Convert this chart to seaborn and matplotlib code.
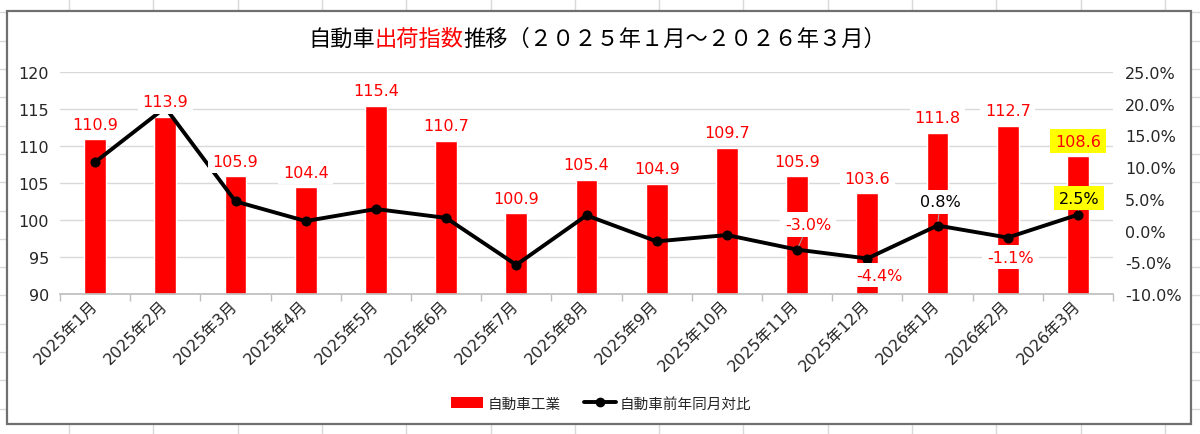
import numpy as np
import matplotlib
matplotlib.use('Agg')
import matplotlib.pyplot as plt
from matplotlib.patches import Rectangle, Patch
from matplotlib.lines import Line2D
import seaborn as sns

# chart data
months = ['2025年1月', '2025年2月', '2025年3月', '2025年4月', '2025年5月',
          '2025年6月', '2025年7月', '2025年8月', '2025年9月', '2025年10月',
          '2025年11月', '2025年12月', '2026年1月', '2026年2月', '2026年3月']
index_vals = [110.9, 113.9, 105.9, 104.4, 115.4, 110.7, 100.9, 105.4,
              104.9, 109.7, 105.9, 103.6, 111.8, 112.7, 108.6]
yoy_vals = [10.8, 19.4, 4.6, 1.5, 3.4, 2.0, -5.4, 2.4,
            -1.7, -0.7, -3.0, -4.4, 0.8, -1.1, 2.5]
bar_name = '自動車工業'
line_name = '自動車前年同月対比'
left_ticks = [90, 95, 100, 105, 110, 115, 120]
right_ticks = [-10, -5, 0, 5, 10, 15, 20, 25]

sns.set_theme(style='white')
plt.rcParams['font.family'] = ['DejaVu Sans', 'Noto Sans CJK JP']

RED = '#ff0000'
fig = plt.figure(figsize=(12, 4.35), dpi=100)

# spreadsheet cells behind the chart object
bg = fig.add_axes([0, 0, 1, 1], zorder=-10)
bg.set_xlim(0, 1200)
bg.set_ylim(435, 0)
bg.axis('off')
for x in np.arange(69, 1200, 84.3):
    bg.axvline(x, color='#d9d9d9', lw=1, zorder=1)
for y in np.arange(13.4, 435, 28.3):
    bg.axhline(y, color='#d9d9d9', lw=1, zorder=1)
bg.add_patch(Rectangle((7, 12), 1184, 413, fc='white', ec='#6f6f6f', lw=1.6, zorder=5))

ax = fig.add_axes([0.05, 0.3218, 0.8775, 0.5103])
ax.set_facecolor('none')
n = len(months)

sns.barplot(x=months, y=index_vals, color=RED, saturation=1, width=0.31,
            ax=ax, zorder=2)
ax.set_ylim(90, 120)
ax.set_yticks(left_ticks)
ax.set_xlim(-0.5, n - 0.5)
ax.grid(axis='y', color='#d9d9d9', lw=1, zorder=0)
ax.set_axisbelow(True)
for s in ['top', 'left', 'right']:
    ax.spines[s].set_visible(False)
ax.spines['bottom'].set_color('#bfbfbf')
ax.set_xticks(np.arange(-0.5, n, 1), minor=True)
ax.tick_params(axis='x', which='major', length=0, pad=6, labelsize=11.5)
ax.tick_params(axis='x', which='minor', length=5, color='#bfbfbf', bottom=True)
ax.tick_params(axis='y', length=0, pad=8, labelsize=11.5)
for lab in ax.get_xticklabels():
    lab.set_rotation(45)
    lab.set_ha('right')
    lab.set_va('center')
    lab.set_rotation_mode('anchor')
ax.set_xlabel('')
ax.set_ylabel('')

ax2 = ax.twinx()
sns.lineplot(x=np.arange(n), y=yoy_vals, ax=ax2, color='black', lw=2.8,
             marker='o', markersize=6.5, markeredgecolor='black', zorder=3)
ax2.set_ylim(-10, 25)
ax2.set_yticks(right_ticks)
ax2.set_yticklabels([f'{v:.1f}%' for v in right_ticks])
ax2.tick_params(axis='y', length=0, pad=8.5, labelsize=11.5)
for s in ax2.spines.values():
    s.set_visible(False)
ax2.set_xlim(-0.5, n - 0.5)
ax2.set_xlabel('')
ax2.set_ylabel('')

# bar value labels (drawn on the top axes so they cover the line)
for i, v in enumerate(index_vals):
    fc = '#ffff00' if i == n - 1 else 'white'
    ax2.annotate(f'{v:.1f}', xy=(i, v), xycoords=ax.transData,
                 xytext=(0, 11), textcoords='offset points',
                 ha='center', va='center', color=RED, fontsize=11.5,
                 bbox=dict(boxstyle='square,pad=0.3', fc=fc, ec='none'),
                 zorder=6)

# year-on-year labels for the latest months
pct_offsets = {10: (8, 18), 11: (9, -12), 12: (2, 17), 13: (2, -14), 14: (1, 12)}
for i, (dx, dy) in pct_offsets.items():
    v = yoy_vals[i]
    col = RED if v < 0 else 'black'
    fc = '#ffff00' if i == n - 1 else 'white'
    arrow = dict(arrowstyle='-', color='#a6a6a6', lw=0.7, shrinkA=0, shrinkB=3) if dy > 0 else None
    ax2.annotate(f'{v:.1f}%', xy=(i, v), xytext=(dx, dy),
                 textcoords='offset points', ha='center', va='center',
                 color=col, fontsize=11.5, arrowprops=arrow,
                 bbox=dict(boxstyle='square,pad=0.3', fc=fc, ec='none'),
                 zorder=6)

# title in three colours
ty = 1 - 39 / 435
t1 = fig.text(0.2567, ty, '自動車', fontsize=16, color='black',
              va='center', ha='left', family=['Noto Sans CJK JP'])
t2 = ax.annotate('出荷指数', xy=(1, 0.5), xycoords=t1, fontsize=16, color=RED,
                 va='center', ha='left', family=['Noto Sans CJK JP'],
                 annotation_clip=False)
t3 = ax.annotate('推移（２０２５年１月～２０２６年３月）', xy=(1, 0.5), xycoords=t2,
                 fontsize=16, color='black', va='center', ha='left',
                 family=['Noto Sans CJK JP'], annotation_clip=False)

handles = [Patch(fc=RED, ec='none'),
           Line2D([], [], color='black', lw=2.8, marker='o', markersize=6)]
fig.legend(handles, [bar_name, line_name], loc='center',
           bbox_to_anchor=(0.501, 1 - 404 / 435), ncol=2, frameon=False,
           fontsize=10.5, handlelength=2.2, columnspacing=1.6, handletextpad=0.3)

fig.savefig('out.png', dpi=100)
